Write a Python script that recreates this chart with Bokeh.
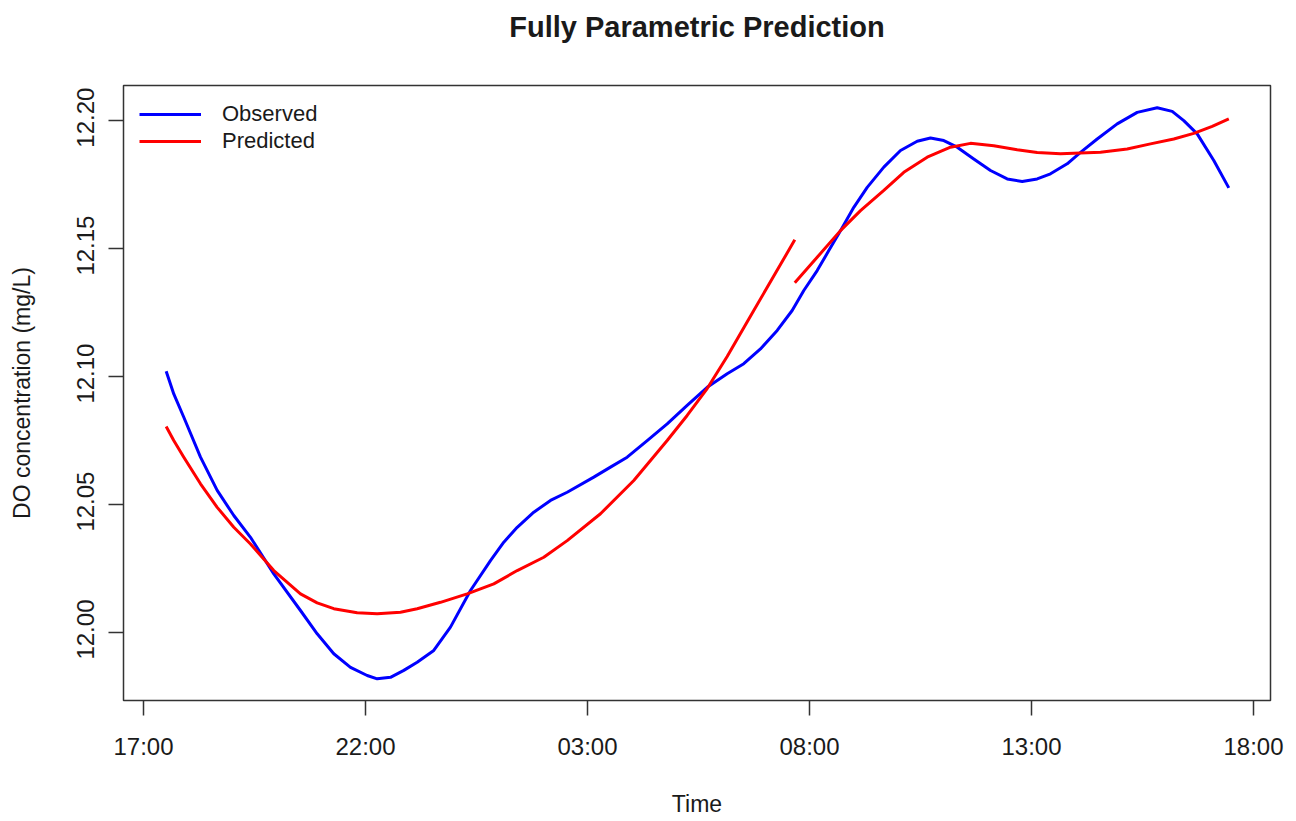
import math
from bokeh.plotting import figure
from bokeh.models import Range1d, FixedTicker, Legend, LegendItem, LinearAxis
from bokeh.embed import file_html
from bokeh.resources import INLINE

# Hours elapsed since 17:00 on the first day
obs_hours = [0.511, 0.682, 0.908, 1.284, 1.660, 2.034, 2.410, 2.935, 3.536, 3.912,
             4.286, 4.662, 5.038, 5.264, 5.563, 5.863, 6.164, 6.538, 6.914, 7.365,
             7.815, 8.115, 8.417, 8.791, 9.167, 9.543, 10.142, 10.518, 10.894, 11.345,
             11.795, 12.245, 12.696, 13.146, 13.520, 13.896, 14.273, 14.610, 14.872, 15.173,
             15.435, 15.698, 15.998, 16.300, 16.674, 17.050, 17.426, 17.725, 18.025, 18.327,
             18.700, 19.077, 19.453, 19.791, 20.128, 20.428, 20.804, 21.104, 21.480, 21.930,
             22.381, 22.831, 23.169, 23.430, 23.732, 24.106, 24.444]
obs_do = [12.1021, 12.0932, 12.0841, 12.0685, 12.0555, 12.0457, 12.0372, 12.0229, 12.0086, 11.9995,
          11.9917, 11.9864, 11.9832, 11.9819, 11.9825, 11.9852, 11.9884, 11.9930, 12.0021, 12.0164,
          12.0281, 12.0353, 12.0411, 12.0470, 12.0516, 12.0548, 12.0607, 12.0646, 12.0685, 12.0750,
          12.0815, 12.0887, 12.0958, 12.1011, 12.1050, 12.1108, 12.1180, 12.1258, 12.1336, 12.1414,
          12.1492, 12.1570, 12.1661, 12.1739, 12.1818, 12.1883, 12.1919, 12.1932, 12.1922, 12.1896,
          12.1850, 12.1805, 12.1772, 12.1762, 12.1772, 12.1792, 12.1831, 12.1876, 12.1928, 12.1987,
          12.2032, 12.2050, 12.2036, 12.2000, 12.1948, 12.1844, 12.1737]

# Prediction is produced in two separate pieces
pred1_hours = [0.511, 0.682, 0.908, 1.284, 1.660, 2.034, 2.410, 2.935, 3.536, 3.912,
               4.286, 4.813, 5.264, 5.788, 6.164, 6.689, 7.290, 7.890, 8.417, 9.016,
               9.543, 10.293, 11.043, 11.795, 12.245, 12.696, 13.146, 13.520, 13.745, 14.669]
pred1_do = [12.0805, 12.0750, 12.0685, 12.0581, 12.0489, 12.0411, 12.0346, 12.0242, 12.0151, 12.0116,
            12.0093, 12.0077, 12.0073, 12.0079, 12.0093, 12.0118, 12.0151, 12.0190, 12.0242, 12.0294,
            12.0359, 12.0464, 12.0594, 12.0750, 12.0848, 12.0953, 12.1078, 12.1191, 12.1258, 12.1534]

pred2_hours = [14.669, 15.173, 15.698, 16.149, 16.674, 17.124, 17.651, 18.176, 18.626, 19.151,
               19.678, 20.128, 20.653, 21.554, 22.155, 22.680, 23.205, 23.655, 24.070, 24.444]
pred2_do = [12.1366, 12.1466, 12.1570, 12.1648, 12.1727, 12.1798, 12.1857, 12.1896, 12.1911, 12.1902,
            12.1886, 12.1875, 12.1870, 12.1876, 12.1889, 12.1909, 12.1928, 12.1950, 12.1977, 12.2007]

x_ticks = [0, 5, 10, 15, 20, 25]
x_tick_labels = ["17:00", "22:00", "03:00", "08:00", "13:00", "18:00"]
y_ticks = [12.00, 12.05, 12.10, 12.15, 12.20]
y_tick_labels = ["12.00", "12.05", "12.10", "12.15", "12.20"]

FONT = "Liberation Sans"
TXT = "#1a1a1a"
TICK = "#333333"

X0, X1 = -0.450, 25.383
Y0, Y1 = 11.97344, 12.2137
FRAME_H = 615  # px

p = figure(width=1296, height=821, output_backend="svg", toolbar_location=None,
           title=None, y_axis_location=None,
           x_range=Range1d(X0, X1), y_range=Range1d(Y0, Y1),
           min_border_left=123, min_border_right=26, min_border_top=85, min_border_bottom=121,
           background_fill_color="white", border_fill_color="white")

p.grid.visible = False
p.outline_line_color = TICK
p.outline_line_width = 1.5


def style_axis(ax):
    ax.axis_line_color = None
    ax.major_tick_line_color = TICK
    ax.major_tick_line_width = 1.5
    ax.major_tick_in = 0
    ax.minor_tick_line_color = None
    ax.major_label_text_font = FONT
    ax.major_label_text_font_size = "24px"
    ax.major_label_text_color = TXT
    ax.axis_label_text_font = FONT
    ax.axis_label_text_font_size = "23px"
    ax.axis_label_text_font_style = "normal"
    ax.axis_label_text_color = TXT


# bottom axis: time of day
xa = p.xaxis[0]
style_axis(xa)
xa.ticker = FixedTicker(ticks=x_ticks)
xa.major_label_overrides = {t: l for t, l in zip(x_ticks, x_tick_labels)}
xa.axis_label = "Time"
xa.major_tick_out = 15
xa.major_label_standoff = 17
xa.axis_label_standoff = 28

# left axis: the tick marks are drawn as minor ticks at the real values; the
# major positions carry the rotated labels (reading upwards), moved half a label
# length along the axis so each label ends up centred on its tick mark
shift = (Y1 - Y0) * 33 / FRAME_H
label_pos = [t + shift for t in y_ticks]
ya = LinearAxis(ticker=FixedTicker(ticks=label_pos, minor_ticks=y_ticks))
style_axis(ya)
ya.major_tick_line_color = None
ya.major_tick_out = 0
ya.minor_tick_line_color = TICK
ya.minor_tick_line_width = 1.5
ya.minor_tick_out = 15
ya.minor_tick_in = 0
ya.major_label_overrides = {t: l for t, l in zip(label_pos, y_tick_labels)}
ya.major_label_orientation = math.pi / 2
ya.major_label_standoff = 23
ya.axis_label = "DO concentration (mg/L)"
ya.axis_label_standoff = 31
p.add_layout(ya, "left")

# chart title, carried by a bare axis above the frame
ta = LinearAxis(ticker=FixedTicker(ticks=[]))
style_axis(ta)
ta.major_tick_out = 0
ta.major_label_standoff = 0
ta.axis_label = "Fully Parametric Prediction"
ta.axis_label_text_font_size = "29px"
ta.axis_label_text_font_style = "bold"
ta.axis_label_standoff = 43
p.add_layout(ta, "above")

r_obs = p.line(obs_hours, obs_do, line_color="#0000FF", line_width=3, line_join="round")
r_p1 = p.line(pred1_hours, pred1_do, line_color="#FF0000", line_width=3, line_join="round")
r_p2 = p.line(pred2_hours, pred2_do, line_color="#FF0000", line_width=3, line_join="round")

legend = Legend(items=[LegendItem(label="Observed", renderers=[r_obs]),
                       LegendItem(label="Predicted", renderers=[r_p1])],
                location="top_left", margin=16, padding=15, spacing=1,
                glyph_width=62, glyph_height=20, label_height=20, label_standoff=21,
                label_text_font=FONT, label_text_font_size="22px", label_text_color=TXT,
                background_fill_alpha=0, border_line_color=None)
p.add_layout(legend)

open("out.html", "w").write(file_html(p, INLINE))
